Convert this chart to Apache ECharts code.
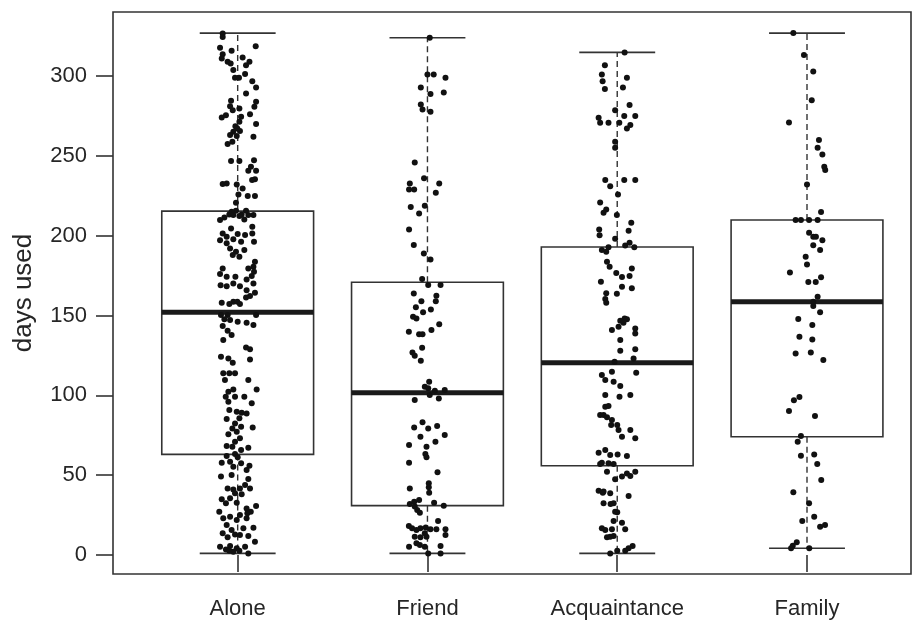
<!DOCTYPE html>
<html>
<head>
<meta charset="utf-8">
<script src="https://cdn.jsdelivr.net/npm/echarts@6/dist/echarts.min.js"></script>
<style>
html,body{margin:0;padding:0;background:#fff;}
#chart{width:918px;height:623px;}
</style>
</head>
<body>
<div id="chart"></div>
<script>
// ---- data ----
const categories = ['Alone', 'Friend', 'Acquaintance', 'Family'];
const yTicks = [0, 50, 100, 150, 200, 250, 300];
const whiskerLow  = [1, 1, 1, 4.2];
const q1          = [63, 30.9, 55.9, 74.1];
const median      = [152, 101.6, 120.4, 158.6];
const q3          = [215.4, 170.8, 192.9, 209.8];
const whiskerHigh = [326.9, 324, 314.8, 326.9];

// [jitter offset, days used]
const alonePoints = [[-0.079,326.6],[-0.079,324.5],[0.095,318.7],[-0.093,317.7],[-0.032,315.8],[-0.079,313.7],[0.026,311.6],[-0.084,311],[-0.053,308.9],[0.062,308.9],[-0.037,307.9],[0.044,306.8],[-0.023,303.7],[0.039,301.2],[-0.014,298.9],[0.007,298.9],[0.077,296.8],[0.097,292.8],[0.044,289.1],[-0.035,284.5],[0.097,283.9],[-0.04,281.1],[0.088,280.7],[-0.026,278.6],[0.009,279.7],[0.065,276.1],[-0.062,275.5],[-0.084,274],[0.018,274.5],[0.009,271.3],[0.097,269.9],[-0.012,268.6],[-0.002,267.2],[-0.023,265.1],[0.012,265.5],[-0.04,263],[-0.005,262.4],[0.083,262],[-0.053,257.4],[-0.028,258.8],[-0.035,246.7],[0.009,246.7],[0.086,247.3],[0.07,243.2],[0.097,240.7],[0.056,240.7],[-0.079,232.3],[-0.058,232.7],[-0.005,232.1],[0.091,235.4],[0.076,234.8],[0.026,229.6],[0.004,225.8],[0.053,224.8],[0.091,224.8],[-0.009,220.6],[-0.009,215.6],[-0.032,215],[0.044,215.6],[-0.093,209.8],[-0.07,211.4],[-0.044,213.3],[-0.023,212.9],[0.021,213.3],[0.056,212.9],[0.083,212.9],[0.035,210.2],[0.009,212.3],[0.077,205.6],[-0.035,204.5],[-0.079,201.4],[0,201],[-0.058,199.3],[0.039,200.4],[0.077,201.4],[-0.093,197.2],[-0.023,197.7],[0.018,196.2],[0.086,196.2],[-0.058,195.2],[-0.04,192],[0.035,191],[-0.009,189.9],[-0.026,187.9],[0.009,186.8],[0.091,183.7],[0.083,180.5],[0.056,179.5],[-0.079,179.5],[0.086,177.4],[-0.093,176],[-0.058,174.3],[-0.012,174.3],[0.074,174.7],[0.047,172.6],[-0.023,170.1],[0.083,170.1],[-0.09,169],[-0.058,168.4],[0.012,168.4],[0.047,165.9],[0.091,164.3],[0.065,162.2],[0.044,161.3],[-0.084,158],[-0.023,158.6],[-0.002,158.6],[0.012,157.2],[-0.044,157.2],[-0.088,150.3],[-0.053,150.3],[0.097,150.3],[-0.07,147.6],[-0.04,147.2],[0,146.1],[0.047,145.5],[0.083,144],[-0.079,143.4],[-0.053,140.5],[-0.032,137.8],[-0.076,134.6],[0.044,130],[0.065,128.8],[-0.088,124.2],[-0.049,123.1],[-0.026,120.4],[0.065,122.5],[-0.076,113.8],[-0.044,113.8],[-0.014,113.8],[-0.067,109.6],[0.056,109.6],[0.1,103.7],[-0.023,103.7],[-0.049,102.3],[-0.063,99.1],[-0.014,99.1],[0.035,99.1],[-0.049,96],[0.074,95],[-0.044,90.8],[-0.005,89.8],[0.021,89.1],[0.047,88.7],[0.009,85.6],[-0.058,85.2],[-0.014,82.4],[0.018,80.4],[0.079,79.9],[-0.028,79.3],[-0.005,77.2],[-0.049,75.6],[0.012,73.1],[-0.014,71],[-0.058,68.3],[-0.028,67.8],[0.056,67.2],[0.018,65.7],[-0.014,63.2],[-0.058,62],[0,61.2],[-0.04,58.4],[-0.084,57.8],[0.018,57.4],[0.062,55.9],[-0.023,55.3],[0.047,53.2],[-0.088,49.1],[-0.032,50.1],[0.056,47.6],[0.039,43.8],[-0.053,41.7],[-0.023,41.1],[0.012,41.7],[0.065,41.7],[-0.014,38.6],[0.021,38],[-0.04,35.5],[-0.084,34.9],[-0.062,32.4],[-0.005,32.8],[0.097,30.7],[0.047,29.2],[0.069,27.1],[-0.097,27.1],[0.051,26.1],[0.012,25],[-0.04,24],[-0.076,23],[0.047,23],[-0.005,21.9],[-0.058,18.8],[0.083,17.1],[0.03,16.7],[-0.032,15.7],[-0.079,13.6],[-0.014,12.9],[0.012,12.5],[0.056,11.9],[-0.053,11.1],[0.091,8.3],[-0.093,5.2],[-0.04,5.6],[-0.005,4.2],[0.039,5.2],[-0.062,3.5],[-0.023,2.1],[0.009,2.7],[0.056,1],[-0.044,2.7]];

const friendPoints = [[0.012,323.9],[0,301],[0.033,301],[0.095,298.9],[-0.035,292.8],[0.016,288.7],[0.086,289.7],[-0.035,282.2],[-0.026,279.1],[0.016,277.6],[-0.067,245.9],[-0.018,235.9],[-0.093,232.7],[0.062,232.7],[-0.097,229],[-0.07,229],[0.044,226.9],[-0.088,218],[-0.014,218.7],[-0.044,213.9],[-0.097,203.9],[-0.072,194.1],[-0.019,188.9],[0.016,185.1],[-0.028,172.8],[0.004,169.1],[0.069,169.1],[-0.072,163.8],[0.047,162.4],[-0.032,159],[0.044,159],[-0.061,155.1],[0.018,153.8],[-0.023,152],[-0.076,149.2],[-0.058,148.2],[0.062,144.6],[-0.098,139.8],[-0.044,138.2],[-0.026,138.2],[0.021,140.9],[-0.028,129.8],[-0.079,126.9],[-0.067,124.8],[-0.035,121.7],[0.009,108.5],[-0.014,105.4],[0.004,104.4],[0.039,102.9],[0.091,103.3],[0.012,100.2],[0.06,98.1],[-0.067,97.1],[-0.026,83.1],[-0.07,79.9],[0.004,79.3],[0.051,80.8],[0.091,75.1],[-0.037,74.1],[0.042,71],[-0.097,68.9],[-0.005,67.8],[-0.011,63.2],[-0.005,61.2],[-0.097,57.8],[0.053,51.8],[0.007,44.9],[0.007,42.4],[-0.093,41.7],[0.009,39],[-0.093,31.9],[-0.07,33.4],[-0.044,34.4],[-0.067,30.3],[-0.054,28.2],[-0.04,26.5],[0.035,32.8],[0.086,30.9],[0.056,21.3],[-0.098,18.2],[-0.081,16.7],[-0.058,15.7],[-0.037,16.7],[-0.009,17.3],[0.016,16.1],[0.047,16.1],[0.095,16.1],[0.095,12.5],[-0.067,11.5],[-0.037,11.1],[-0.014,13.6],[-0.005,11.5],[-0.097,5.2],[-0.04,6.3],[-0.014,5.2],[0.069,5.6],[0.004,1],[0.069,1],[-0.058,7.3]];

const acquaintancePoints = [[0.039,314.8],[-0.065,306.8],[-0.081,301],[-0.077,296.8],[-0.065,291.8],[0.051,298.9],[0.03,292.8],[0.065,281.8],[-0.011,278.6],[0.037,274.9],[0.095,274.9],[0.069,269.3],[0.051,267.2],[0.011,270.7],[-0.046,270.7],[-0.09,270.7],[-0.098,273.8],[-0.011,258.8],[-0.011,255.1],[-0.063,234.8],[-0.037,231],[0.037,234.8],[0.095,234.8],[0.004,225.8],[-0.09,220.8],[-0.058,216.4],[-0.072,214.4],[-0.002,212.9],[0.074,208.1],[0.06,203.1],[-0.095,203.9],[-0.093,200.2],[-0.011,198.1],[0.065,195.6],[0.042,193.9],[0.09,192.7],[-0.046,192.7],[-0.081,191],[-0.058,189.9],[-0.054,183.7],[-0.04,180.5],[-0.005,176.7],[0.025,174.1],[0.065,174.7],[0.077,179.5],[-0.086,171.2],[0.077,167],[0.025,168],[-0.002,163.6],[-0.058,164],[-0.063,160.4],[-0.058,158],[0.039,148.2],[0.051,147.6],[0.016,146.7],[0.033,145.5],[0.007,143],[-0.028,140.9],[0.095,141.9],[0.095,138.8],[0.016,134.6],[0.016,128],[0.095,128.8],[0.086,123.1],[-0.014,121.1],[0.1,114.2],[-0.028,114.8],[-0.081,112.7],[-0.019,108.5],[0.016,105.8],[0.069,100.2],[0.012,99.1],[-0.063,100.2],[-0.063,92.9],[-0.09,87.7],[-0.072,87.7],[-0.028,84.5],[0,81.4],[0.007,78.3],[0.069,78.3],[0.095,73.1],[0.025,74.1],[-0.063,65.7],[-0.037,62.6],[0.002,63],[0.051,62],[-0.081,57.8],[-0.046,57.4],[-0.019,57],[0.025,49.1],[0.051,51.1],[0.069,49.5],[0.095,52.2],[-0.011,47.4],[0.06,36.9],[-0.072,39.7],[-0.037,38.6],[-0.019,32.4],[0,26.7],[-0.072,32.4],[-0.019,21.3],[0.025,20.2],[0.042,16.1],[-0.028,16.1],[-0.063,15.7],[-0.019,11.9],[-0.054,11.1],[0.081,5.6],[0.06,4.2],[0,2.7],[-0.037,1],[0.042,2.7],[-0.063,109.6],[-0.046,93.3],[-0.054,86.2],[-0.032,81.4],[-0.098,64.1],[-0.09,57],[-0.054,52.2],[-0.098,40.3],[-0.076,39],[-0.035,31.9],[-0.011,27.1],[-0.081,16.7],[-0.037,11.5]];

const familyPoints = [[-0.072,326.9],[-0.016,313.1],[0.033,302.9],[0.025,284.9],[-0.095,270.9],[0.063,259.9],[0.056,255.1],[0.081,250.9],[0.091,243.2],[0.096,241.1],[0,232.1],[0.074,214.8],[-0.06,209.8],[-0.032,209.8],[0.011,209.8],[0.056,209.8],[0.011,201.8],[0.033,199.3],[0.047,199.3],[0.081,197.1],[0.033,194],[0.069,191],[-0.007,186.8],[0,182],[-0.09,177],[0.007,171],[0.046,171],[0.074,173.9],[0.056,161.7],[0.033,158.6],[0.033,156],[0.069,152],[-0.046,147.8],[0.028,144],[-0.04,136.7],[0.028,135],[-0.06,126.2],[0.02,126.9],[0.086,122.1],[-0.069,97],[-0.04,98.9],[-0.095,90.2],[0.042,87],[-0.032,74.5],[-0.049,71],[-0.032,62.2],[0.038,63],[0.054,57],[0.075,47],[-0.072,39.3],[0.011,32.4],[0.038,24],[-0.025,21.3],[0.069,17.7],[0.095,18.8],[-0.054,8],[-0.075,5.8],[-0.084,4.2],[0.012,4.2]];

const pointGroups = [alonePoints, friendPoints, acquaintancePoints, familyPoints];

// ---- build chart ----
const FONT = '"Liberation Sans", Arial, Helvetica, sans-serif';
const INK = '#262626';
const LINE = '#333333';

const boxData = categories.map((c, i) => [i + 1, whiskerLow[i], q1[i], median[i], q3[i], whiskerHigh[i]]);
const scatterData = [];
pointGroups.forEach((pts, i) => pts.forEach(p => scatterData.push([i + 1 + p[0], p[1]])));

function renderBox(params, api) {
  const x = api.value(0);
  const lo = api.value(1), b1 = api.value(2), md = api.value(3), b3 = api.value(4), hi = api.value(5);
  const half = 0.4, cap = 0.2;
  const pTL = api.coord([x - half, b3]);
  const pBR = api.coord([x + half, b1]);
  const c = (xx, yy) => api.coord([xx, yy]);
  const lineStyle = { stroke: LINE, lineWidth: 1.6, fill: null };
  const dashStyle = { stroke: LINE, lineWidth: 1.4, lineDash: [6, 4], fill: null };
  const mk = (a, b, style) => ({ type: 'line', shape: { x1: a[0], y1: a[1], x2: b[0], y2: b[1] }, style: style });
  return {
    type: 'group',
    children: [
      mk(c(x, b3), c(x, hi), dashStyle),
      mk(c(x, b1), c(x, lo), dashStyle),
      mk(c(x - cap, hi), c(x + cap, hi), lineStyle),
      mk(c(x - cap, lo), c(x + cap, lo), lineStyle),
      { type: 'rect', shape: { x: pTL[0], y: pTL[1], width: pBR[0] - pTL[0], height: pBR[1] - pTL[1] },
        style: { stroke: LINE, lineWidth: 1.6, fill: 'rgba(255,255,255,0)' } },
      mk(c(x - half, md), c(x + half, md), { stroke: '#1a1a1a', lineWidth: 5, fill: null })
    ]
  };
}

const chart = echarts.init(document.getElementById('chart'), null, { renderer: 'canvas' });
chart.setOption({
  animation: false,
  backgroundColor: '#ffffff',
  grid: { left: 113, right: 7, top: 12, bottom: 49, show: true, borderColor: LINE, borderWidth: 1.6, backgroundColor: 'transparent' },
  xAxis: {
    type: 'value', min: 0.343, max: 4.548,
    splitLine: { show: false },
    axisLine: { show: false },
    axisTick: { show: true, customValues: [1, 2, 3, 4], length: 17, inside: false, lineStyle: { color: LINE, width: 1.6 } },
    axisLabel: {
      customValues: [1, 2, 3, 4], margin: 24,
      formatter: v => categories[Math.round(v) - 1] || '',
      fontSize: 22, fontFamily: FONT, color: INK
    }
  },
  yAxis: {
    type: 'value', min: -11.9, max: 340.1,
    name: 'days used', nameLocation: 'middle', nameGap: 76, nameRotate: 90,
    nameTextStyle: { fontSize: 26, fontFamily: FONT, color: INK },
    splitLine: { show: false },
    axisLine: { show: false },
    axisTick: { show: true, customValues: yTicks, length: 17, inside: false, lineStyle: { color: LINE, width: 1.6 } },
    axisLabel: { customValues: yTicks, margin: 26, fontSize: 22, fontFamily: FONT, color: INK }
  },
  series: [
    { type: 'custom', renderItem: renderBox, data: boxData, encode: { x: 0, y: [1, 2, 3, 4, 5] }, z: 2, silent: true },
    { type: 'scatter', data: scatterData, symbol: 'circle', symbolSize: 6, itemStyle: { color: '#111111', opacity: 1 }, z: 3, silent: true }
  ]
});
</script>
</body>
</html>
